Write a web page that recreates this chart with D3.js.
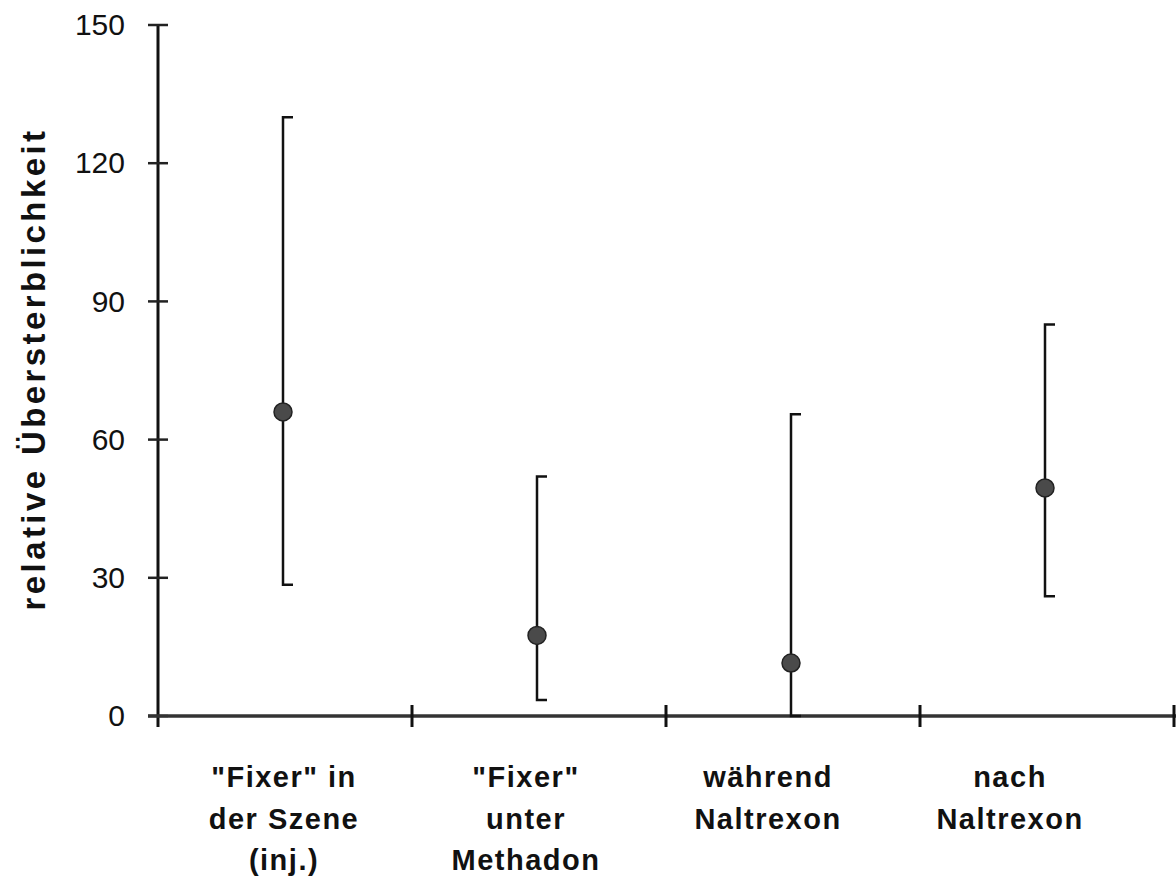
<!DOCTYPE html>
<html>
<head>
<meta charset="utf-8">
<script src="https://cdn.jsdelivr.net/npm/d3@7"></script>
<style>
  body { margin: 0; background: #fff; }
  svg { display: block; font-family: "Liberation Sans", Arial, sans-serif; }
</style>
</head>
<body>
<svg id="chart" width="1176" height="877"></svg>
<script>
(function () {

  'use strict';

  // Data
  var categories = ['fixer', 'methadon', 'waehrend', 'nach'];
  var labels = [
    ['"Fixer" in', 'der Szene', '(inj.)'],
    ['"Fixer"', 'unter', 'Methadon'],
    ['während', 'Naltrexon'],
    ['nach', 'Naltrexon']
  ];
  var means = [66, 17.5, 11.5, 49.5];
  var lower = [28.5, 3.5, 0, 26];
  var upper = [130, 52, 65.5, 85];
  var yTicks = [0, 30, 60, 90, 120, 150];

  // Settings
  var left = 158, right = 1174, top = 25, bottom = 716;
  var capWidth = 10;

  var svg = d3.select('#chart');

  var x = d3.scaleBand()
    .domain(categories)
    .range([left, right])
    .padding(0);

  // labels sit a little left of the bars in the original
  var xLabel = d3.scalePoint()
    .domain(categories)
    .range([284, 1010]);

  var y = d3.scaleLinear()
    .domain([0, 150])
    .range([bottom, top]);

  // y axis
  var yAxis = d3.axisLeft(y)
    .tickValues(yTicks)
    .tickSize(0)
    .tickPadding(33);

  var gy = svg.append('g')
    .attr('transform', 'translate(' + left + ',0)')
    .call(yAxis);

  gy.select('.domain').remove();
  gy.selectAll('text')
    .attr('font-size', 30)
    .attr('fill', '#111')
    .attr('font-family', '"Liberation Sans", Arial, sans-serif');

  svg.append('line')
    .attr('x1', left).attr('x2', left)
    .attr('y1', y(150)).attr('y2', bottom + 11)
    .attr('stroke', '#111')
    .attr('stroke-width', 3);

  svg.append('g').selectAll('line')
    .data(yTicks)
    .enter()
    .append('line')
    .attr('x1', left - 10).attr('x2', left + 10)
    .attr('y1', function (d) { return y(d); })
    .attr('y2', function (d) { return y(d); })
    .attr('stroke', '#222')
    .attr('stroke-width', 2.5);

  // x axis
  svg.append('line')
    .attr('x1', left - 10).attr('x2', 1176)
    .attr('y1', bottom).attr('y2', bottom)
    .attr('stroke', '#333')
    .attr('stroke-width', 3.5);

  svg.append('g').selectAll('line')
    .data(categories)
    .enter()
    .append('line')
    .attr('x1', function (d) { return x(d) + x.bandwidth(); })
    .attr('x2', function (d) { return x(d) + x.bandwidth(); })
    .attr('y1', bottom - 11).attr('y2', bottom + 11)
    .attr('stroke', '#111')
    .attr('stroke-width', 3);

  // x labels
  var lab = svg.append('g').selectAll('text')
    .data(categories)
    .enter()
    .append('text')
    .attr('text-anchor', 'middle')
    .attr('font-size', 29)
    .attr('font-weight', 'bold')
    .attr('letter-spacing', 1.5)
    .attr('fill', '#111')
    .attr('transform', function (d) {
      return 'translate(' + xLabel(d) + ',787)';
    });

  lab.selectAll('tspan')
    .data(function (d, i) { return labels[i]; })
    .enter()
    .append('tspan')
    .attr('x', 0)
    .attr('y', function (d, i) { return i * 41.5; })
    .text(function (d) { return d; });

  // y title
  svg.append('text')
    .attr('transform', 'translate(45,369) rotate(-90)')
    .attr('text-anchor', 'middle')
    .attr('font-size', 33)
    .attr('font-weight', 'bold')
    .attr('letter-spacing', 3.4)
    .attr('fill', '#111')
    .text('relative Übersterblichkeit');

  // error bars
  var bars = svg.append('g').selectAll('g')
    .data(categories)
    .enter()
    .append('g')
    .attr('transform', function (d) {
      return 'translate(' + (x(d) + x.bandwidth() / 2 - 2) + ',0)';
    });

  bars.append('path')
    .attr('fill', 'none')
    .attr('stroke', '#111')
    .attr('stroke-width', 2.5)
    .attr('d', function (d, i) {
      return 'M' + capWidth + ',' + y(upper[i]) +
        'H0V' + y(lower[i]) + 'H' + capWidth;
    });

  bars.append('circle')
    .attr('cx', 0)
    .attr('cy', function (d, i) { return y(means[i]); })
    .attr('r', 9)
    .attr('fill', '#4a4a4a')
    .attr('stroke', '#222')
    .attr('stroke-width', 1.5);
})();
</script>
</body>
</html>
